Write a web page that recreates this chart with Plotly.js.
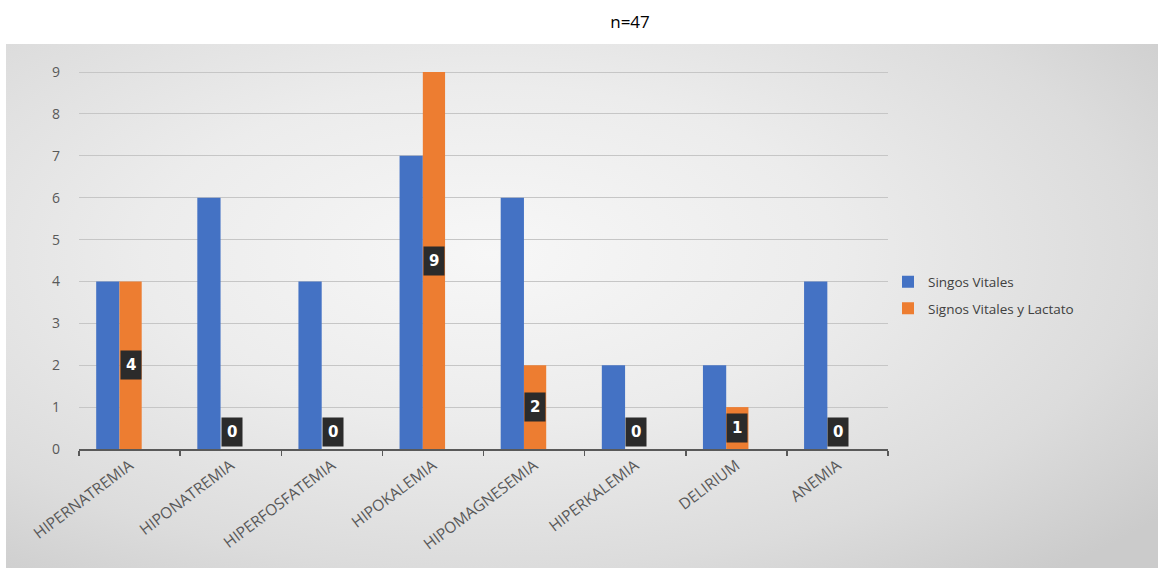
<!DOCTYPE html>
<html>
<head>
<meta charset="utf-8">
<script src="https://cdn.plot.ly/plotly-3.0.1.min.js"></script>
<style>
  html, body { margin: 0; padding: 0; background: #ffffff; }
  #wrap { position: relative; width: 1158px; height: 568px; }
  #bg { position: absolute; left: 6px; top: 44px; width: 1152px; height: 524px;
        background: radial-gradient(ellipse 75% 80% at 42% 40%, #f7f7f7 0%, #ececec 40%, #dcdcdc 75%, #cbcbcb 100%); }
  #chart { position: absolute; left: 0; top: 0; width: 1158px; height: 568px; }
</style>
</head>
<body>
<div id="wrap">
  <div id="bg"></div>
  <div id="chart"></div>
</div>
<script>
const categories = ["HIPERNATREMIA", "HIPONATREMIA", "HIPERFOSFATEMIA", "HIPOKALEMIA",
                    "HIPOMAGNESEMIA", "HIPERKALEMIA", "DELIRIUM", "ANEMIA"];
const seriesNames = ["Singos Vitales", "Signos Vitales y Lactato"];
const singosVitales = [4, 6, 4, 7, 6, 2, 2, 4];
const signosVitalesLactato = [4, 0, 0, 9, 2, 0, 1, 0];
const yTicks = [0, 1, 2, 3, 4, 5, 6, 7, 8, 9];
const titleText = "n=47";

const traces = [
  { type: "bar", name: seriesNames[0], x: categories, y: singosVitales, legendgroup: "a",
    marker: { color: "#4472C4" }, offset: -0.33, width: 0.23, hoverinfo: "x+y" },
  { type: "bar", name: seriesNames[1], x: categories, y: signosVitalesLactato, legendgroup: "b",
    marker: { color: "#ED7D31" }, offset: -0.10, width: 0.22, hoverinfo: "x+y" }
];

const annotations = categories.map((c, i) => {
  const v = signosVitalesLactato[i];
  return {
    x: c, y: v === 0 ? 0 : v / 2, xref: "x", yref: "y",
    text: "<b>" + v + "</b>", showarrow: false,
    xshift: 1, yshift: v === 0 ? 2 : 0,
    yanchor: v === 0 ? "bottom" : "middle",
    bgcolor: "#2b2b2b", borderpad: 5,
    font: { family: "DejaVu Sans", size: 15, color: "#ffffff" }
  };
});

const layout = {
  width: 1158, height: 568,
  margin: { l: 79, r: 270, t: 70, b: 119 },
  paper_bgcolor: "rgba(0,0,0,0)",
  plot_bgcolor: "rgba(0,0,0,0)",
  barmode: "overlay",
  title: { text: titleText, xref: "container", yref: "container",
           x: 630 / 1158, y: 1 - 22 / 568, xanchor: "center", yanchor: "middle",
           font: { family: "Open Sans", size: 17, color: "#000000" } },
  xaxis: {
    type: "category", tickson: "boundaries", ticks: "outside", ticklen: 5,
    tickcolor: "#595959", tickwidth: 1.5,
    showline: true, linecolor: "#595959", linewidth: 1.5,
    tickangle: -37, showgrid: false,
    tickfont: { family: "Open Sans", size: 15.5, color: "#595959" }
  },
  yaxis: {
    range: [0, 9.05], tickvals: yTicks, showline: false, zeroline: false,
    gridcolor: "#c6c6c6", gridwidth: 1, ticks: "",
    tickfont: { family: "Open Sans", size: 14, color: "#595959" },
    ticklabelstandoff: 18
  },
  legend: {
    x: 1.0, y: 0.405, xanchor: "left", yanchor: "middle",
    bgcolor: "rgba(0,0,0,0)", itemwidth: 30, traceorder: "grouped",
    font: { family: "Open Sans", size: 13.5, color: "#404040" },
    tracegroupgap: 6
  },
  annotations: annotations,
  showlegend: true
};

Plotly.newPlot("chart", traces, layout, { displayModeBar: false, staticPlot: true });
</script>
</body>
</html>
